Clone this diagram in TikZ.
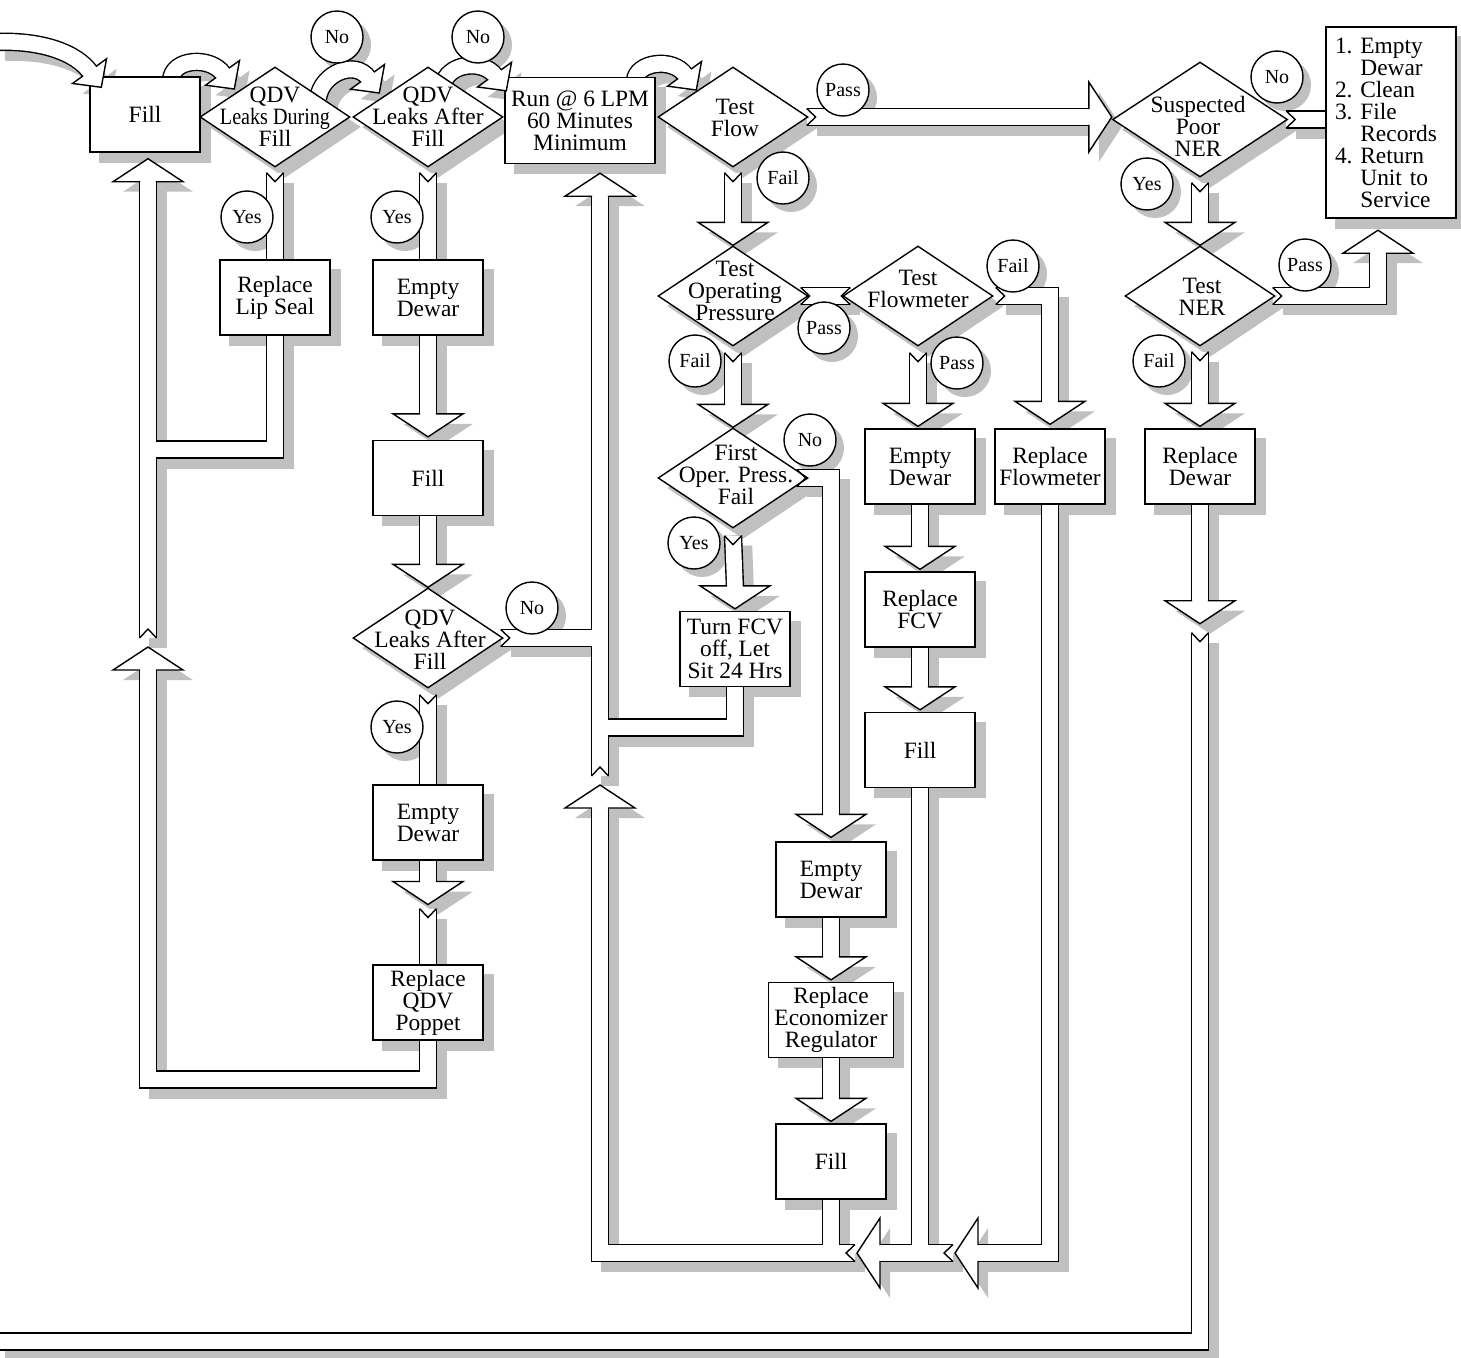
\documentclass[tikz,border=0pt]{standalone}
\usepackage{fontspec}
\setmainfont{Liberation Serif}
\usepackage{graphicx}
\usepackage{tikz}
\usetikzlibrary{calc,shapes.geometric}
\definecolor{shadowgray}{RGB}{192,192,192}
\pgfdeclarelayer{shad}\pgfdeclarelayer{outl}\pgfdeclarelayer{innr}\pgfdeclarelayer{front}
\pgfsetlayers{shad,outl,innr,main,front}
\newcommand\fatshaft[1]{%
  \begin{pgfonlayer}{shad}\draw[shadowgray,line width=9.2pt,line join=miter,transform canvas={xshift=5pt,yshift=-5pt}] #1;\end{pgfonlayer}%
  \begin{pgfonlayer}{outl}\draw[line width=9.2pt,line join=miter] #1;\end{pgfonlayer}%
  \begin{pgfonlayer}{innr}\draw[white,line width=7.8pt,line join=miter] #1;\end{pgfonlayer}}
\newcommand\arrowhead[4]{%
  \begin{pgfonlayer}{shad}\fill[shadowgray,transform canvas={xshift=5pt,yshift=-5pt},shift={#1},rotate=#2] (0,0) -- (-#3,#4) -- (-#3,-#4) -- cycle;\end{pgfonlayer}%
  \begin{pgfonlayer}{front}\begin{scope}[shift={#1},rotate=#2]
    \fill[white] (0,0) -- (-#3,#4) -- (-#3,-#4) -- cycle;
    \draw[line width=0.7pt,line join=miter] (-#3,7.9) -- (-#3,#4) -- (0,0) -- (-#3,-#4) -- (-#3,-7.9);
  \end{scope}\end{pgfonlayer}}
\newcommand\fathead[2]{\arrowhead{#1}{#2}{23}{35}}
\newcommand\smallhead[2]{\arrowhead{#1}{#2}{20}{21}}
\newcommand\fatnotch[2]{%
  \begin{pgfonlayer}{front}\draw[line width=0.7pt,shift={#1},rotate=#2] (0,8.5) -- (9,0) -- (0,-8.5);\end{pgfonlayer}}

\begin{document}
\begin{tikzpicture}[x=0.5pt,y=-0.5pt,
  txt/.style={font=\fontsize{11.7}{11}\selectfont,align=center,inner sep=0pt},
  box/.style={txt,draw,fill=white,line width=0.7pt,minimum width=55pt,minimum height=37.5pt},
  dia/.style={diamond,draw,fill=white,line width=0.7pt,minimum width=75pt,minimum height=50pt,inner sep=0pt},
  lbl/.style={circle,draw,fill=white,line width=0.7pt,minimum size=26pt,inner sep=0pt,font=\fontsize{10}{10}\selectfont}]
\useasboundingbox (0,0) rectangle (1461,1357);

\node[box] (fillA) at (145,114.5) {Fill};
\node[box,minimum width=75pt,minimum height=43pt] (run) at (580,120.5) {Run @ 6 LPM\\60 Minutes\\Minimum};
\node[box] (lip) at (275,297.5) {Replace\\Lip Seal};
\node[box] (empA) at (428,297.5) {Empty\\Dewar};
\node[box] (fillB) at (428,478) {Fill};
\node[box] (empB) at (428,822.5) {Empty\\Dewar};
\node[box] (popp) at (428,1002.5) {Replace\\QDV\\Poppet};
\node[box] (fcv) at (735,649) {Turn FCV\\off, Let\\Sit 24 Hrs};
\node[box] (empD) at (831,879.5) {Empty\\Dewar};
\node[box,minimum width=62.5pt] (econ) at (831,1020) {Replace\\Economizer\\Regulator};
\node[box] (fillD) at (831,1161.5) {Fill};
\node[box] (empC) at (920,466.5) {Empty\\Dewar};
\node[box] (rfcv) at (920,609.5) {Replace\\FCV};
\node[box] (fillC) at (920,750) {Fill};
\node[box] (rflow) at (1050,466.5) {Replace\\Flowmeter};
\node[box] (rdew) at (1200,466.5) {Replace\\Dewar};
\node[box,line width=1.2pt,minimum height=95.5pt,align=left,text width=56pt,inner sep=4.5pt] (done) at (1391,122.5)
  {1.~Empty\\\hphantom{1.~}Dewar\\2.~Clean\\3.~File\\\hphantom{3.~}Records\\4.~Return\\\hphantom{4.~}Unit to\\\hphantom{4.~}Service};

\node[dia] (d1) at (275,117) {};
\node[dia] (d2) at (428,117) {};
\node[dia] (d3) at (733,117) {};
\node[dia,minimum width=87.5pt,minimum height=57.5pt] (d4) at (1200,119.5) {};
\node[dia] (d5) at (1200,296) {};
\node[dia] (d6) at (733,296) {};
\node[dia] (d7) at (918,296) {};
\node[dia] (d8) at (733,478) {};
\node[dia] (d9) at (428,638) {};
\node[txt] (d1t) at (275,117) {QDV\\\scalebox{0.86}[1]{Leaks During}\\Fill};
\node[txt] (d2t) at (428,117) {QDV\\Leaks After\\Fill};
\node[txt] (d3t) at (735,118) {Test\\Flow};
\node[txt] (d4t) at (1198,126) {Suspected\\Poor\\NER};
\node[txt] (d5t) at (1202,297) {Test\\NER};
\node[txt] (d6t) at (735,291) {Test\\Operating\\Pressure};
\node[txt] (d7t) at (918,289) {Test\\Flowmeter};
\node[txt] (d8t) at (736,475) {First\\Oper. Press.\\Fail};
\node[txt] (d9t) at (430,640) {QDV\\Leaks After\\Fill};

\node[lbl] (noA) at (337,37) {No};
\node[lbl] (noB) at (478,37) {No};
\node[lbl] (yesA) at (247,217) {Yes};
\node[lbl] (yesB) at (397,217) {Yes};
\node[lbl] (passA) at (843,90) {Pass};
\node[lbl] (failA) at (783,178) {Fail};
\node[lbl] (noC) at (1277,77) {No};
\node[lbl] (yesC) at (1147,184) {Yes};
\node[lbl] (passB) at (1305,265) {Pass};
\node[lbl] (failB) at (1159,361) {Fail};
\node[lbl] (passC) at (824,328) {Pass};
\node[lbl] (failC) at (695,361) {Fail};
\node[lbl] (failD) at (1013,266) {Fail};
\node[lbl] (passD) at (957,363) {Pass};
\node[lbl] (noD) at (810,440) {No};
\node[lbl] (yesD) at (694,543) {Yes};
\node[lbl] (noE) at (532,608) {No};
\node[lbl] (yesE) at (397,727) {Yes};

\begin{pgfonlayer}{shad}
\foreach \n in {fillA,run,lip,empA,fillB,empB,popp,fcv,empD,econ,fillD,empC,rfcv,fillC,rflow,rdew,done}
  \fill[shadowgray] ([xshift=5pt,yshift=-5pt]\n.south west) rectangle ([xshift=5pt,yshift=-5pt]\n.north east);
\foreach \i in {1,...,9}
  \fill[shadowgray] ([xshift=5pt,yshift=-5pt]d\i.north) -- ([xshift=5pt,yshift=-5pt]d\i.east)
    -- ([xshift=5pt,yshift=-5pt]d\i.south) -- ([xshift=5pt,yshift=-5pt]d\i.west) -- cycle;
\foreach \n in {noA,noB,yesA,yesB,passA,failA,noC,yesC,passB,failB,passC,failC,failD,passD,noD,yesD,noE,yesE}
  \fill[shadowgray] ([xshift=4pt,yshift=-4pt]\n.center) circle (13pt);
\end{pgfonlayer}

\coordinate (offL) at (-5,42);
\coordinate (offB) at (-5,1341.5);
\coordinate (jL) at (148,449.5);
\coordinate (lowL) at (148,1079.5);
\coordinate (hL) at (148,647);
\coordinate (hU) at (600,785);
\coordinate (jF) at (600,727.5);
\coordinate (h1) at (955,1253);
\coordinate (h2) at (857,1253);
\coordinate (mB) at ($(empB.south)!.5!(popp.north)$);
\coordinate (hR) at ($(rdew.south)+(0,119)$);
\coordinate (tD) at ($(done.south)+(-13,11)$);
\coordinate (tA) at ($(fillA.north west)+(12,11)$);
\coordinate (t1) at ($(d1.west)+(35,-28)$);
\coordinate (t2) at ($(d2.west)+(27,-24)$);
\coordinate (t3) at ($(run.north west)+(2,14)$);
\coordinate (t4) at ($(d3.west)+(39,-27)$);

% curved feeds along the top
\fatshaft{(offL) .. controls (40,40) and (76,52) .. ($(tA)+(-11,-15)$)}
\smallhead{(tA)}{-54}
\fatshaft{($(fillA.north)+(26,4)$) .. controls (172,58) and (211,56) .. ($(t1)+(-11,-15)$)}
\smallhead{(t1)}{-54}
\fatshaft{($(d1.north)+(43,32)$) .. controls (322,72) and (356,60) .. ($(t2)+(-11,-15)$)}
\smallhead{(t2)}{-54}
\fatshaft{($(d2.north)+(15,19)$) .. controls (447,63) and (483,59) .. ($(t3)+(-11,-15)$)}
\smallhead{(t3)}{-54}
\fatshaft{($(run.north)+(55,4)$) .. controls (636,62) and (673,57) .. ($(t4)+(-11,-15)$)}
\smallhead{(t4)}{-54}

% QDV branch
\fatshaft{($(d1.south)+(0,5)$) -- (lip.north)}
\fatnotch{($(d1.south)+(0,5)$)}{-90}
\fatshaft{(lip.south) |- (jL)}
\fatshaft{($(d2.south)+(0,5)$) -- (empA.north)}
\fatnotch{($(d2.south)+(0,5)$)}{-90}
\fatshaft{(empA.south) -- ($(fillB.north)+(0,-24)$)}
\fathead{($(fillB.north)+(0,-3)$)}{-90}
\fatshaft{(fillB.south) -- ($(d9.north)+(0,-21)$)}
\fathead{(d9.north)}{-90}
\fatshaft{($(d9.south)+(0,6)$) -- (empB.north)}
\fatnotch{($(d9.south)+(0,6)$)}{-90}
\fatshaft{(empB.south) -- ($(mB)+(0,-29)$)}
\fathead{($(mB)+(0,-8)$)}{-90}
\fatshaft{($(mB)+(0,-4)$) -- (popp.north)}
\fatnotch{($(mB)+(0,-4)$)}{-90}
\fatshaft{(popp.south) |- (lowL) -- ($(hL)+(0,21)$)}
\fathead{(hL)}{90}
\fatshaft{($(hL)+(0,-9)$) -- ($(hL |- fillA.south)+(0,27)$)}
\fatnotch{($(hL)+(0,-9)$)}{90}
\fathead{($(hL |- fillA.south)+(0,6)$)}{90}

% back up to the run box
\fatshaft{($(d9.east)+(-3,0)$) -- (d9.east -| hU)}
\fatnotch{($(d9.east)+(-3,0)$)}{0}
\fatshaft{($(hU)+(0,-9)$) -- ($(hU |- run.south)+(0,30)$)}
\fatnotch{($(hU)+(0,-9)$)}{90}
\fathead{($(hU |- run.south)+(0,9)$)}{90}
\fatshaft{(fcv.south) |- (jF)}

% flow and pressure tests
\fatshaft{($(d3.south)+(0,5)$) -- ($(d6.north)+(0,-21)$)}
\fatnotch{($(d3.south)+(0,5)$)}{-90}
\fathead{(d6.north)}{-90}
\fatshaft{($(d6.south)+(0,6)$) -- ($(d8.north)+(0,-21)$)}
\fatnotch{($(d6.south)+(0,6)$)}{-90}
\fathead{(d8.north)}{-90}
\fatshaft{($(d8.south)+(0,7)$) -- ($(fcv.north)+(0,-23)$)}
\fatnotch{($(d8.south)+(0,7)$)}{-90}
\fathead{($(fcv.north)+(0,-2)$)}{-90}
\fatshaft{($(d8.east)+(-12,0)$) -| ($(empD.north)+(0,-25)$)}
\fatnotch{($(d8.east)+(-12,0)$)}{0}
\fathead{($(empD.north)+(0,-4)$)}{-90}
\fatshaft{(empD.south) -- ($(econ.north)+(0,-23)$)}
\fathead{($(econ.north)+(0,-2)$)}{-90}
\fatshaft{(econ.south) -- ($(fillD.north)+(0,-23)$)}
\fathead{($(fillD.north)+(0,-2)$)}{-90}
\fatshaft{(fillD.south) -- (fillD.south |- h2)}

\fatshaft{($(d6.east)+(-8,0)$) -- ($(d7.west)+(8,0)$)}
\fatnotch{($(d6.east)+(-8,0)$)}{0}
\fatnotch{($(d7.west)+(8,0)$)}{180}
\fatshaft{($(d7.east)+(2,0)$) -| ($(rflow.north)+(0,-25)$)}
\fatnotch{($(d7.east)+(2,0)$)}{0}
\fathead{($(rflow.north)+(0,-4)$)}{-90}
\fatshaft{($(d7.south)+(0,6)$) -- ($(d7.south |- empC.north)+(0,-23)$)}
\fatnotch{($(d7.south)+(0,6)$)}{-90}
\fathead{($(d7.south |- empC.north)+(0,-2)$)}{-90}
\fatshaft{(empC.south) -- ($(rfcv.north)+(0,-23)$)}
\fathead{($(rfcv.north)+(0,-2)$)}{-90}
\fatshaft{(rfcv.south) -- ($(fillC.north)+(0,-23)$)}
\fathead{($(fillC.north)+(0,-2)$)}{-90}
\fatshaft{(fillC.south) -- (fillC.south |- h1)}

% return flow along the bottom
\fatshaft{(rflow.south) |- ($(h1)+(21,0)$)}
\fathead{(h1)}{180}
\fatshaft{($(h1)+(-2,0)$) -- ($(h2)+(21,0)$)}
\fatnotch{($(h1)+(-2,0)$)}{180}
\fathead{(h2)}{180}
\fatshaft{($(h2)+(-2,0)$) -| ($(hU)+(0,21)$)}
\fatnotch{($(h2)+(-2,0)$)}{180}
\fathead{(hU)}{90}

% NER checks
\fatshaft{($(d3.east)+(-2,0)$) -- ($(d3.east -| d4.west)+(-21,0)$)}
\fatnotch{($(d3.east)+(-2,0)$)}{0}
\fathead{(d3.east -| d4.west)}{0}
\fatshaft{($(d4.east)+(-2,0)$) -- (d4.east -| done.west)}
\fatnotch{($(d4.east)+(-2,0)$)}{0}
\fatshaft{($(d4.south)+(0,5)$) -- ($(d5.north)+(0,-21)$)}
\fatnotch{($(d4.south)+(0,5)$)}{-90}
\fathead{(d5.north)}{-90}
\fatshaft{($(d5.east)+(-3,0)$) -| ($(tD)+(0,21)$)}
\fatnotch{($(d5.east)+(-3,0)$)}{0}
\fathead{(tD)}{90}
\fatshaft{($(d5.south)+(0,5)$) -- ($(rdew.north)+(0,-23)$)}
\fatnotch{($(d5.south)+(0,5)$)}{-90}
\fathead{($(rdew.north)+(0,-2)$)}{-90}
\fatshaft{(rdew.south) -- ($(hR)+(0,-21)$)}
\fathead{(hR)}{-90}
\fatshaft{($(hR)+(0,9)$) |- (offB)}
\fatnotch{($(hR)+(0,9)$)}{-90}
\end{tikzpicture}
\end{document}
